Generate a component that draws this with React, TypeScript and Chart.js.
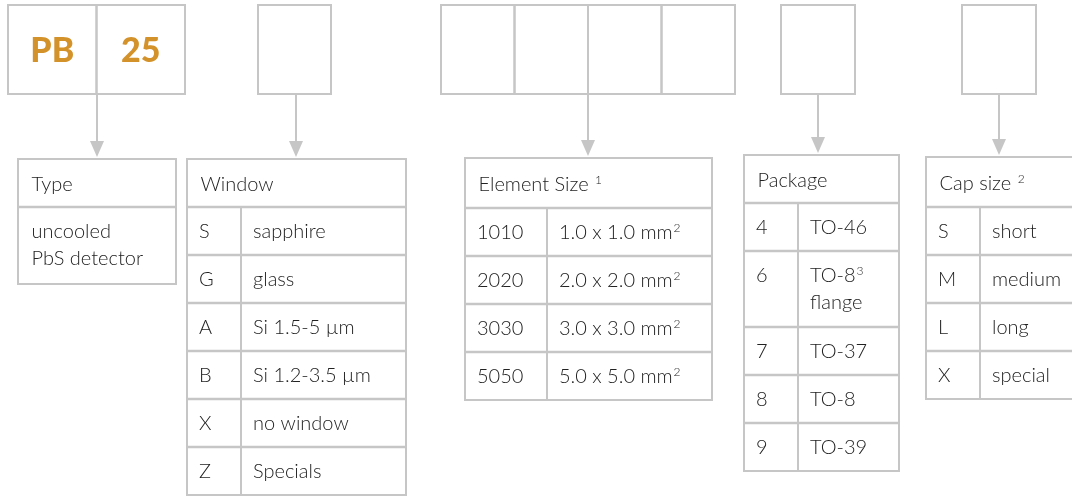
import React, { useEffect, useRef } from "react";
import { Chart, registerables } from "chart.js";

Chart.register(...registerables);

// ---------- content ----------
const codeSegments = ["PB", "25", "", "", "", "", "", "", ""];
const typeTitle = "Type";
const typeBody = ["uncooled", "PbS detector"];
const windowTitle = "Window";
const windowCodes = ["S", "G", "A", "B", "X", "Z"];
const windowLabels = ["sapphire", "glass", "Si 1.5-5 µm", "Si 1.2-3.5 µm", "no window", "Specials"];
const sizeTitle = "Element Size ¹";
const sizeCodes = ["1010", "2020", "3030", "5050"];
const sizeLabels = ["1.0 x 1.0 mm²", "2.0 x 2.0 mm²", "3.0 x 3.0 mm²", "5.0 x 5.0 mm²"];
const packageTitle = "Package";
const packageCodes = ["4", "6", "7", "8", "9"];
const packageLabels = ["TO-46", "TO-8³\nflange", "TO-37", "TO-8", "TO-39"];
const capTitle = "Cap size ²";
const capCodes = ["S", "M", "L", "X"];
const capLabels = ["short", "medium", "long", "special"];

// ---------- layout (diagram units = px) ----------
const W = 1072;
const H = 497;
const topBoxY = [5, 94];
const topGroups = [
  { left: 8, cellW: 88.5, cells: 2 },
  { left: 258, cellW: 73, cells: 1 },
  { left: 441, cellW: 73.5, cells: 4 },
  { left: 781, cellW: 74, cells: 1 },
  { left: 962, cellW: 74, cells: 1 },
];
const arrowX = [97, 296, 588, 818, 999];

const tables = [
  { title: typeTitle, left: 18, top: 159, width: 158, headerH: 48, divX: null as number | null, rows: [77], codes: [""], labels: [typeBody.join("\n")] },
  { title: windowTitle, left: 187, top: 159, width: 219, headerH: 48, divX: 241, rows: [48, 48, 48, 48, 48, 48], codes: windowCodes, labels: windowLabels },
  { title: sizeTitle, left: 465, top: 158, width: 247, headerH: 50, divX: 547, rows: [48, 48, 48, 48], codes: sizeCodes, labels: sizeLabels },
  { title: packageTitle, left: 744, top: 155, width: 155, headerH: 48, divX: 798, rows: [48, 76, 48, 48, 48], codes: packageCodes, labels: packageLabels },
  { title: capTitle, left: 926, top: 157, width: 170, headerH: 50, divX: 980, rows: [48, 48, 48, 48], codes: capCodes, labels: capLabels },
];

const LINE = "#c6c6c6";
const TEXT = "#222222";
const ORANGE = "#d4922a";
const FONT = "Lato, 'Open Sans', sans-serif";
const MAIN_FONT = `300 20px ${FONT}`;
const SUP_FONT = `300 12px ${FONT}`;
const SUP_MAP: Record<string, string> = { "¹": "1", "²": "2", "³": "3" };

function drawRich(ctx: CanvasRenderingContext2D, text: string, x: number, y: number) {
  let cx = x;
  let buf = "";
  const flush = () => {
    if (!buf) return;
    ctx.font = MAIN_FONT;
    ctx.fillText(buf, cx, y);
    cx += ctx.measureText(buf).width;
    buf = "";
  };
  for (const ch of text) {
    if (SUP_MAP[ch]) {
      flush();
      ctx.font = SUP_FONT;
      ctx.fillText(SUP_MAP[ch], cx + 1, y - 5);
      cx += ctx.measureText(SUP_MAP[ch]).width + 1;
    } else {
      buf += ch;
    }
  }
  flush();
}

const diagramPlugin = {
  id: "diagram",
  afterDraw(chart: any) {
    const ctx: CanvasRenderingContext2D = chart.ctx;
    const sx = chart.scales.x;
    const sy = chart.scales.y;
    const X = (v: number) => sx.getPixelForValue(v);
    const Y = (v: number) => sy.getPixelForValue(v);
    ctx.save();
    ctx.lineWidth = 2;
    ctx.strokeStyle = LINE;

    // top code boxes
    let seg = 0;
    topGroups.forEach((g) => {
      for (let i = 0; i < g.cells; i++) {
        const x0 = X(g.left + i * g.cellW);
        const x1 = X(g.left + (i + 1) * g.cellW);
        ctx.strokeRect(x0, Y(topBoxY[0]), x1 - x0, Y(topBoxY[1]) - Y(topBoxY[0]));
        const t = codeSegments[seg++];
        if (t) {
          ctx.fillStyle = ORANGE;
          ctx.font = `900 34px ${FONT}`;
          ctx.textAlign = "center";
          ctx.textBaseline = "middle";
          ctx.fillText(t, (x0 + x1) / 2, Y((topBoxY[0] + topBoxY[1]) / 2 + 2));
        }
      }
    });

    // arrows
    arrowX.forEach((ax, i) => {
      const t = tables[i];
      const x = X(ax);
      const y0 = Y(topBoxY[1]);
      const tip = Y(t.top - 2);
      ctx.beginPath();
      ctx.moveTo(x, y0);
      ctx.lineTo(x, tip - 12);
      ctx.stroke();
      ctx.fillStyle = LINE;
      ctx.beginPath();
      ctx.moveTo(x - 7, tip - 16);
      ctx.lineTo(x + 7, tip - 16);
      ctx.lineTo(x, tip);
      ctx.closePath();
      ctx.fill();
    });

    // tables
    tables.forEach((t) => {
      const total = t.headerH + t.rows.reduce((a, b) => a + b, 0);
      const l = X(t.left);
      const r = X(t.left + t.width);
      const tp = Y(t.top);
      const bt = Y(t.top + total);
      ctx.strokeStyle = LINE;
      ctx.lineWidth = 2;
      ctx.strokeRect(l, tp, r - l, bt - tp);
      ctx.lineWidth = 2.5;
      let yy = t.top + t.headerH;
      ctx.beginPath();
      ctx.moveTo(l, Y(yy));
      ctx.lineTo(r, Y(yy));
      ctx.stroke();
      ctx.fillStyle = TEXT;
      ctx.textAlign = "left";
      ctx.textBaseline = "middle";
      drawRich(ctx, t.title, X(t.left + 13.5), Y(t.top + t.headerH / 2 + 2));
      t.rows.forEach((h, i) => {
        const rowTop = yy;
        if (i > 0) {
          ctx.beginPath();
          ctx.moveTo(l, Y(rowTop));
          ctx.lineTo(r, Y(rowTop));
          ctx.stroke();
        }
        const lines = t.labels[i].split("\n");
        const code = t.codes[i];
        const labelX = t.divX !== null ? t.divX + 12 : t.left + 13.5;
        if (lines.length === 1) {
          const cy = Y(rowTop + h / 2 + 1);
          if (code) drawRich(ctx, code, X(t.left + 12), cy);
          drawRich(ctx, lines[0], X(labelX), cy);
        } else {
          const firstY = rowTop + 25;
          if (code) drawRich(ctx, code, X(t.left + 12), Y(firstY));
          lines.forEach((ln, k) => drawRich(ctx, ln, X(labelX), Y(firstY + k * 27)));
        }
        yy += h;
      });
      if (t.divX !== null) {
        ctx.lineWidth = 2;
        ctx.beginPath();
        ctx.moveTo(X(t.divX), Y(t.top + t.headerH));
        ctx.lineTo(X(t.divX), bt);
        ctx.stroke();
      }
    });
    ctx.restore();
  },
};

export default function App() {
  const ref = useRef<HTMLCanvasElement>(null);
  useEffect(() => {
    document.body.style.margin = "0";
    const chart = new Chart(ref.current as HTMLCanvasElement, {
      type: "scatter",
      data: { datasets: [{ data: [], showLine: false }] },
      options: {
        animation: false,
        responsive: false,
        devicePixelRatio: 1,
        layout: { padding: 0 },
        plugins: { legend: { display: false }, tooltip: { enabled: false } },
        scales: {
          x: { type: "linear", min: 0, max: W, display: false },
          y: { type: "linear", min: 0, max: H, reverse: true, display: false },
        },
      },
      plugins: [diagramPlugin],
    });
    return () => chart.destroy();
  }, []);
  return (
    <div style={{ position: "absolute", left: 0, top: 0, width: W, height: H, background: "#fff" }}>
      <canvas ref={ref} width={W} height={H} style={{ display: "block" }} />
    </div>
  );
}
